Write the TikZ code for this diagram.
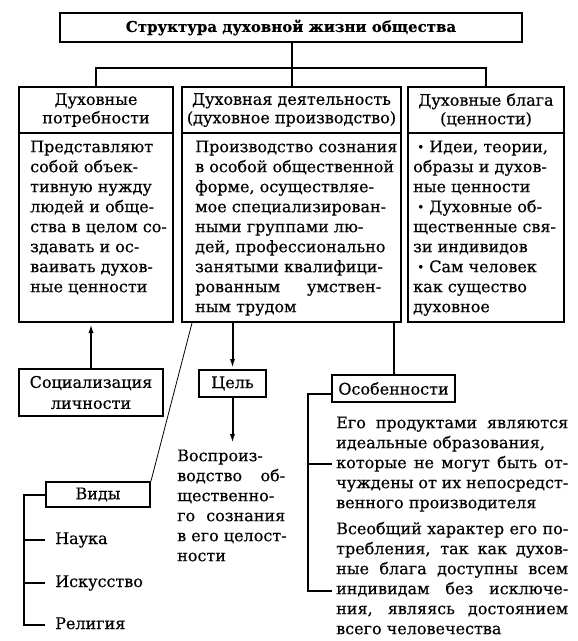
\documentclass[tikz,border=0pt]{standalone}
\usepackage{fontspec}
\setmainfont{DejaVu Serif}[FakeBold=0.4]
\usetikzlibrary{arrows.meta}
\newcommand{\bodyfs}{\fontsize{16}{20}\selectfont}
\newcommand{\headfs}{\fontsize{16}{18.5}\selectfont}
\newcommand{\sline}[2]{\makebox[#1][s]{#2}}
\newcommand{\bul}{\hspace*{4pt}{\fontsize{12}{12}\selectfont\raisebox{1pt}{•}}\hspace{5pt}}
\begin{document}
\begin{tikzpicture}[x=1pt,y=-1pt,
  box/.style={draw, line width=2pt, inner sep=0pt, align=center, font=\headfs},
  txt/.style={inner sep=0pt, align=left, font=\bodyfs, anchor=north west},
  item/.style={inner xsep=10pt, inner ysep=0pt, text height=11pt, text depth=3pt, font=\bodyfs, anchor=west},
  conn/.style={line width=2pt},
  arr/.style={line width=2pt, -{Latex[length=10pt,width=5pt]}},
  thinline/.style={line width=0.8pt}]
\useasboundingbox (0,0) rectangle (578,641);
\fill[white] (0,0) rectangle (578,641);

% title
\node[box, minimum width=462pt, minimum height=29pt, font=\bfseries\fontsize{15}{18}\selectfont] (t) at (291,27.5) {Структура духовной жизни общества};

% headers
\node[box, minimum width=154pt, minimum height=46pt] (lh) at (96,110) {Духовные\\потребности};
\node[box, minimum width=219pt, minimum height=46pt] (mh) at (291.5,110) {Духовная деятельность\\(духовное производство)};
\node[box, minimum width=156pt, minimum height=46pt] (rh) at (486,110) {Духовные блага\\(ценности)};

% bodies
\node[box, minimum width=154pt, minimum height=189pt] (lb) at (96,227.5) {};
\node[box, minimum width=219pt, minimum height=189pt] (mb) at (291.5,227.5) {};
\node[box, minimum width=156pt, minimum height=189pt] (rb) at (486,227.5) {};

\node[txt] (lbt) at (30,138) {\strut Представляют\\собой объек-\\тивную нужду\\людей и обще-\\ства в целом со-\\здавать и ос-\\ваивать духов-\\ные ценности};
\node[txt] (mbt) at (195,138) {\strut Производство сознания\\в особой общественной\\форме, осуществляе-\\мое специализирован-\\ными группами лю-\\дей, профессионально\\занятыми квалифици-\\\sline{186pt}{рованным умствен-}\\ным трудом};
\node[txt] (rbt) at (413,138) {\strut\bul Идеи, теории,\\образы и духов-\\ные ценности\\\bul Духовные об-\\щественные свя-\\зи индивидов\\\bul Сам человек\\как существо\\духовное};

% connectors from title
\coordinate (j) at (291.5,68);
\draw[conn] (t.south -| j) -- (j);
\draw[conn] (lh.north) |- (j) -| (rh.north);
\draw[conn] (j) -- (mh.north);

% socialization
\node[box, minimum width=144pt, minimum height=47pt, font=\fontsize{16}{21}\selectfont] (soc) at (91,392.5) {Социализация\\личности};
\draw[arr] (soc.north) -- (soc.north |- lb.south);

% goal
\node[box, minimum width=67pt, minimum height=27pt, font=\bodyfs] (goal) at (232.5,383.5) {Цель};
\draw[arr] (goal.north |- mb.south) -- (goal.north);
\node[txt] (goalt) at (177,447) {\strut Воспроиз-\\\sline{108pt}{водство об-}\\щественно-\\\sline{108pt}{го сознания}\\в его целост-\\ности};
\coordinate (gend) at (232.5,444);
\draw[arr] (goal.south) -- (gend);

% types
\node[box, minimum width=104pt, minimum height=25pt, font=\bodyfs] (vid) at (98,494.5) {Виды};
\draw[thinline] ([xshift=11pt]mb.south west) -- (vid.north east);
\node[item] (nau) at (45,540) {Наука};
\node[item] (isk) at (45,583) {Искусство};
\node[item] (rel) at (45,625) {Религия};
\coordinate (vb) at (24,0);
\draw[conn] (vid.west) -| (rel.west -| vb) -- (rel.west);
\draw[conn] (nau.west -| vb) -- (nau.west);
\draw[conn] (isk.west -| vb) -- (isk.west);

% features
\node[box, minimum width=123pt, minimum height=27pt, font=\bodyfs] (osb) at (393.5,388.5) {Особенности};
\draw[conn] (osb.north) -- (osb.north |- mb.south);
\node[txt] (os1) at (336,414) {\strut\sline{232pt}{Его продуктами являются}\\идеальные образования,\\\sline{232pt}{которые не могут быть от-}\\\sline{232pt}{чуждены от их непосредст-}\\венного производителя};
\node[txt] (os2) at (336,520) {\strut\sline{232pt}{Всеобщий характер его по-}\\\sline{232pt}{требления, так как духов-}\\\sline{232pt}{ные блага доступны всем}\\\sline{232pt}{индивидам без исключе-}\\\sline{232pt}{ния, являясь достоянием}\\всего человечества};
\coordinate (ob) at (308,0);
\coordinate (k1) at (332,464);
\coordinate (k2) at (332,591);
\draw[conn] ([yshift=-5pt]osb.west) -| (k2 -| ob) -- (k2);
\draw[conn] (k1 -| ob) -- (k1);
\end{tikzpicture}
\end{document}
